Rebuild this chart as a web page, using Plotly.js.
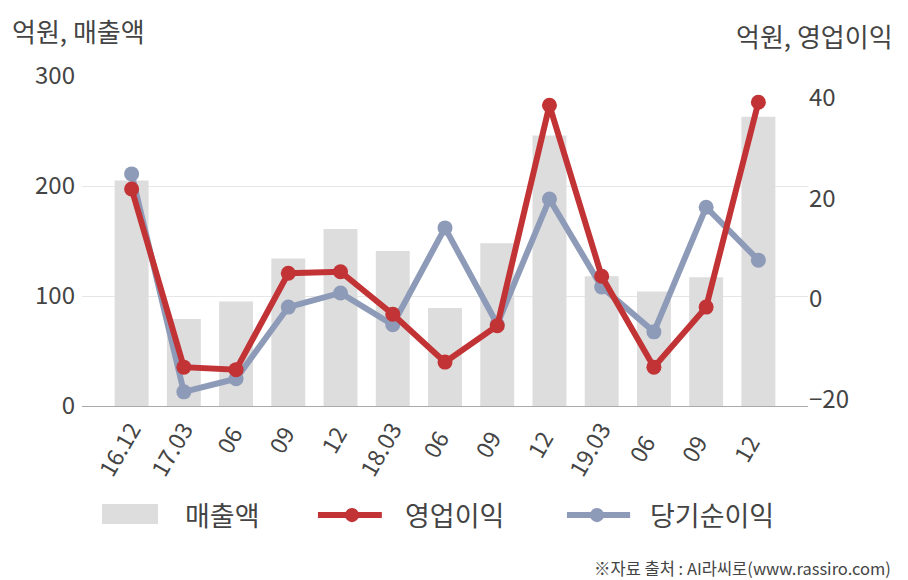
<!DOCTYPE html>
<html><head><meta charset="utf-8">
<script src="https://cdn.plot.ly/plotly-3.0.1.min.js"></script>
<style>html,body{margin:0;padding:0;background:#fff}</style>
</head><body>
<div id="chart" style="width:908px;height:580px"></div>
<script>
const categories = ["16.12","17.03","06 ","09 ","12 ","18.03","06  ","09  ","12  ","19.03","06   ","09   ","12   "];
const sales = [205, 79, 95, 134, 161, 141, 89, 148, 246, 118, 104, 117, 263];
const opProfit = [21.8, -13.5, -14, 5.1, 5.4, -3, -12.5, -5.3, 38.4, 4.5, -13.5, -1.6, 39];
const netProfit = [24.8, -18.4, -15.8, -1.6, 1.2, -5.1, 14.1, -5, 19.8, 2.4, -6.5, 18.2, 7.7];
const seriesNames = ['매출액', '영업이익', '당기순이익'];
const colors = {sales:'#dddddd', op:'#c23336', net:'#8e9bb8'};

const FONT = "'Noto Sans CJK KR', 'Noto Sans', sans-serif";
const traces = [
  {type:'bar', x:categories, y:sales, name:seriesNames[0], marker:{color:colors.sales}, width:0.65, yaxis:'y'},
  {type:'scatter', mode:'lines+markers', x:categories, y:netProfit, name:seriesNames[2], yaxis:'y2',
   line:{color:colors.net, width:6}, marker:{color:colors.net, size:15}},
  {type:'scatter', mode:'lines+markers', x:categories, y:opProfit, name:seriesNames[1], yaxis:'y2',
   line:{color:colors.op, width:6}, marker:{color:colors.op, size:15}}
];
// custom legend (decoration only)
const legendShapes = [
  {type:'rect', xref:'paper', yref:'paper', x0:0.0275, x1:0.1047, y0:-0.3576, y1:-0.297, fillcolor:colors.sales, line:{width:0}},
  {type:'line', xref:'paper', yref:'paper', x0:0.325, x1:0.413, y0:-0.330, y1:-0.330, line:{color:colors.op, width:6}},
  {type:'circle', xref:'paper', yref:'paper', x0:0.3623, x1:0.3815, y0:-0.352, y1:-0.309, fillcolor:colors.op, line:{width:0}},
  {type:'line', xref:'paper', yref:'paper', x0:0.668, x1:0.755, y0:-0.330, y1:-0.330, line:{color:colors.net, width:6}},
  {type:'circle', xref:'paper', yref:'paper', x0:0.6997, x1:0.7190, y0:-0.352, y1:-0.309, fillcolor:colors.net, line:{width:0}}
];
const layout = {
  width:908, height:580,
  margin:{l:82, r:100, t:76, b:174},
  paper_bgcolor:'#fff', plot_bgcolor:'#fff',
  font:{family:FONT, color:'#444', size:22},
  showlegend:false,
  bargap:0.35,
  xaxis:{type:'category', range:[-0.95, 12.95], tickangle:-60, showgrid:false,
         showline:true, linecolor:'#aaa', linewidth:1, ticks:'', tickfont:{size:23, color:'#444'}},
  yaxis:{range:[0,300], tickvals:[0,100,200,300], showgrid:true, gridcolor:'#e6e6e6', zeroline:false,
         ticks:'', tickfont:{size:24, color:'#444'}, ticklabelstandoff:6},
  yaxis2:{overlaying:'y', side:'right', range:[-21.2, 44.2], tickvals:[-20,0,20,40], showgrid:false,
          zeroline:false, ticks:'', tickfont:{size:24, color:'#444'}},
  shapes: legendShapes,
  annotations:[
    {text:'억원, 매출액', xref:'paper', yref:'paper', x:-0.0992, y:1.139, xanchor:'left', yanchor:'middle', showarrow:false, font:{size:26, color:'#444'}},
    {text:'억원, 영업이익', xref:'paper', yref:'paper', x:1.1198, y:1.124, xanchor:'right', yanchor:'middle', showarrow:false, font:{size:26, color:'#444'}},
    {text:seriesNames[0], xref:'paper', yref:'paper', x:0.139, y:-0.330, xanchor:'left', yanchor:'middle', showarrow:false, font:{size:27, color:'#444'}},
    {text:seriesNames[1], xref:'paper', yref:'paper', x:0.442, y:-0.330, xanchor:'left', yanchor:'middle', showarrow:false, font:{size:27, color:'#444'}},
    {text:seriesNames[2], xref:'paper', yref:'paper', x:0.7796, y:-0.330, xanchor:'left', yanchor:'middle', showarrow:false, font:{size:27, color:'#444'}},
    {text:'※자료 출처 : AI라씨로(www.rassiro.com)', xref:'paper', yref:'paper', x:1.117, y:-0.491, xanchor:'right', yanchor:'middle', showarrow:false, font:{size:16.5, color:'#444'}}
  ]
};
Plotly.newPlot('chart', traces, layout, {displayModeBar:false, staticPlot:true});
</script>
</body></html>
